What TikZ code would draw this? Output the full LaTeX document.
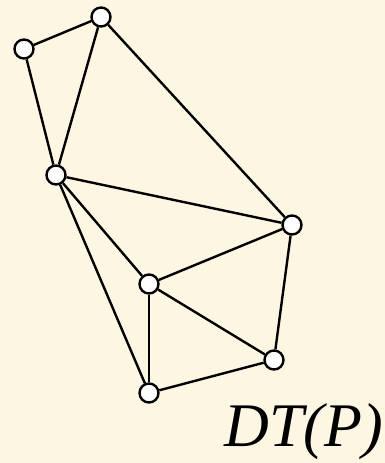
\documentclass[tikz,border=0pt]{standalone}
\usepackage{fontspec}
\setmainfont{Liberation Serif}
\definecolor{bg}{HTML}{FDF6E3}
\begin{document}
\begin{tikzpicture}[x=1pt,y=-1pt,
  vert/.style={circle,draw=black,fill=white,line width=2.4pt,minimum size=19pt,inner sep=0pt},
  edge/.style={line width=2.4pt,draw=black}]
\fill[bg] (0,0) rectangle (385,463);
\useasboundingbox (0,0) rectangle (385,463);
\node[vert] (A) at (101,17) {};
\node[vert] (B) at (24,49) {};
\node[vert] (C) at (56,175) {};
\node[vert] (D) at (292,225) {};
\node[vert] (E) at (149,284) {};
\node[vert] (F) at (274,360) {};
\node[vert] (G) at (149,393) {};
\foreach \a/\b in {B/A,A/C,B/C,A/D,C/D,C/E,C/G,E/D,E/F,E/G,D/F,G/F}
  \draw[edge] (\a) -- (\b);
\node[anchor=base east,inner sep=0pt,font=\fontsize{62}{62}\selectfont\itshape] (L) at (383,446) {DT(P)};
\end{tikzpicture}
\end{document}
